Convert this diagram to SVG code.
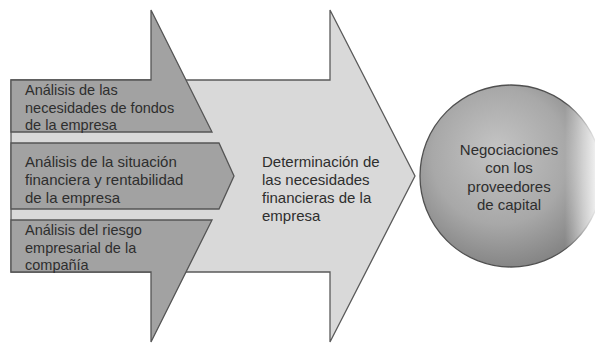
<svg xmlns="http://www.w3.org/2000/svg" width="595" height="345" viewBox="0 0 595 345">
  <style>
    .big { fill: #d9d9d9; stroke: #5a5a5a; stroke-width: 1.3; stroke-linejoin: miter; }
    .dark { fill: #a2a2a2; stroke: #555555; stroke-width: 1.3; stroke-linejoin: miter; }
    .circ { fill: url(#cg); stroke: #505050; stroke-width: 1.3; }
    text { font-family: "Liberation Sans", Arial, sans-serif; font-size: 15px; fill: #2e2e2e; }
    .s { font-size: 14.5px; }
    .c { text-anchor: middle; }
  </style>
  <defs>
    <radialGradient id="cg" cx="0.45" cy="0.42" r="0.62" fx="0.42" fy="0.35">
      <stop offset="0" stop-color="#c4c4c4"/>
      <stop offset="0.6" stop-color="#a8a8a8"/>
      <stop offset="1" stop-color="#808080"/>
    </radialGradient>
    <linearGradient id="glare" x1="0" y1="0" x2="1" y2="0">
      <stop offset="0" stop-color="#ffffff" stop-opacity="0"/>
      <stop offset="0.6" stop-color="#ffffff" stop-opacity="0.55"/>
      <stop offset="1" stop-color="#ffffff" stop-opacity="0.85"/>
    </linearGradient>
  </defs>
  <rect x="0" y="0" width="595" height="345" fill="#ffffff"/>

  <g id="determinacion">
    <polygon class="big" points="11,80 330,80 330,10 415,176 330,342 330,272 11,272"/>
    <text x="262" y="167">Determinación de</text>
    <text x="262" y="185">las necesidades</text>
    <text x="262" y="203">financieras de la</text>
    <text x="262" y="221">empresa</text>
  </g>

  <g id="analisis-fondos">
    <polygon class="dark" points="11,80 151,80 151,10 212,132 11,132"/>
    <text class="s" x="25" y="95">Análisis de las</text>
    <text class="s" x="25" y="112.5">necesidades de fondos</text>
    <text class="s" x="25" y="130">de la empresa</text>
  </g>

  <g id="analisis-situacion">
    <polygon class="dark" points="11,143 219,143 234,176 219,209 11,209"/>
    <text x="25" y="167">Análisis de la situación</text>
    <text x="25" y="185">financiera y rentabilidad</text>
    <text x="25" y="203">de la empresa</text>
  </g>

  <g id="analisis-riesgo">
    <polygon class="dark" points="11,220 212,220 151,342 151,272 11,272"/>
    <text class="s" x="25" y="235">Análisis del riesgo</text>
    <text class="s" x="25" y="252.5">empresarial de la</text>
    <text class="s" x="25" y="270">compañía</text>
  </g>

  <g id="negociaciones">
    <circle class="circ" cx="511" cy="176" r="91"/>
    <text class="c" x="509" y="155">Negociaciones</text>
    <text class="c" x="509" y="173">con los</text>
    <text class="c" x="509" y="192">proveedores</text>
    <text class="c" x="509" y="210">de capital</text>
  </g>

  <g id="connectors"></g>

  <rect x="565" y="0" width="30" height="345" fill="url(#glare)"/>
</svg>
